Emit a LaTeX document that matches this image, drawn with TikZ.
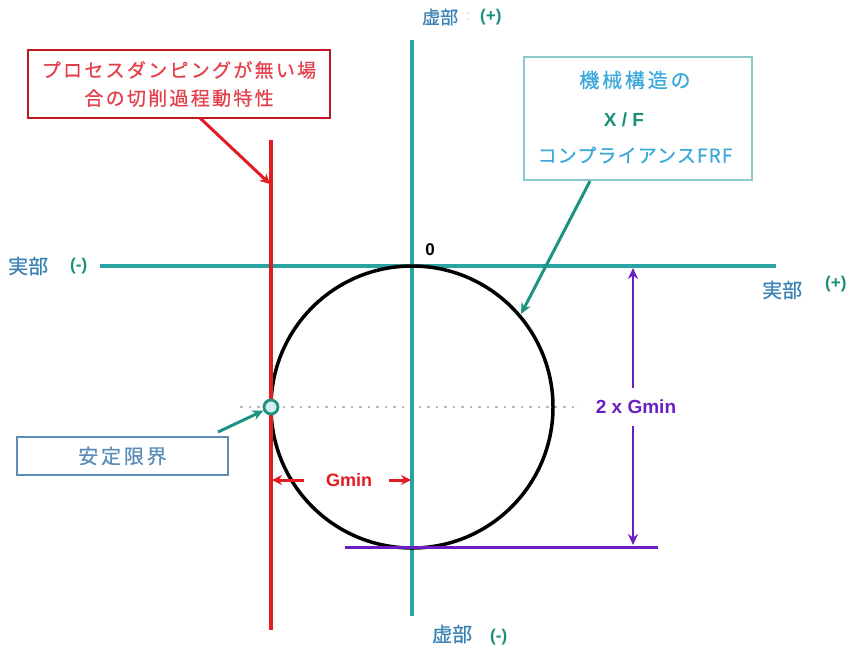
\documentclass[tikz,border=0pt]{standalone}
\usepackage{fontspec}
\setmainfont{Liberation Sans}
\newfontfamily\cjk[FakeBold=0.6]{Noto Sans CJK JP}
\usetikzlibrary{arrows.meta}
\definecolor{axisteal}{HTML}{2AA3A3}
\definecolor{myred}{HTML}{E31B23}
\definecolor{redtxt}{HTML}{E3404C}
\definecolor{mypurple}{HTML}{6A1FC2}
\definecolor{lblblue}{HTML}{3A82B4}
\definecolor{lblteal}{HTML}{1A8F7A}
\definecolor{ltblue}{HTML}{3AA8DA}
\definecolor{boxteal}{HTML}{8CC8CC}
\definecolor{steel}{HTML}{5B8DB8}
\tikzset{
  axisline/.style={draw=axisteal, line width=3.5pt},
  redline/.style={draw=myred, line width=3.5pt},
  purpline/.style={draw=mypurple, line width=3pt},
  tealarrow/.style={draw=lblteal!80!axisteal, line width=3pt, -{Stealth[length=11pt,width=10pt]}},
  redarrow/.style={draw=myred, line width=3pt, -{Stealth[length=10pt,width=10pt]}},
  purparrow/.style={draw=mypurple, line width=2.6pt, -{Stealth[length=11pt,width=10pt]}},
  lbl/.style={inner sep=0pt, font=\cjk\fontsize{20}{22}\selectfont, text=lblblue},
  pm/.style={inner sep=0pt, font=\bfseries\fontsize{17}{18}\selectfont, text=lblteal},
}
\begin{document}
\begin{tikzpicture}[x=1pt,y=-1pt]
\useasboundingbox (0,0) rectangle (853,653);
% dotted guide
\draw[gray!55, line width=2pt, dash pattern=on 2.5pt off 6pt] (240,407) -- (580,407);
% axes
\coordinate (hxL) at (100,266);
\coordinate (hxR) at (776,266);
\coordinate (vxT) at (412,40);
\coordinate (vxB) at (412,616);
\draw[axisline] (hxL) -- (hxR);
\draw[axisline] (vxT) -- (vxB);
% circle
\coordinate (cc) at (412,407);
\draw[black, line width=3.5pt] (cc) circle[radius=141];
% red vertical line
\coordinate (rT) at (271,140);
\coordinate (rB) at (271,630);
\draw[redline] (rT) -- (rB);
% purple baseline
\coordinate (pL) at (345,547);
\coordinate (pR) at (658,547);
\draw[purpline] (pL) -- (pR);
% stability point
\node[circle, draw=lblteal!80!axisteal, line width=2.8pt, fill=white!80!axisteal, minimum size=14pt, inner sep=0pt] (stab) at (271,407) {};
% labels on axes
\node[lbl, anchor=west] (reL) at (8,266) {実部};
\node[pm, anchor=west] (reLpm) at (70,266) {(-)};
\node[lbl, anchor=west] (reR) at (762,290) {実部};
\node[pm, anchor=west] (reRpm) at (825,284) {(+)};
\node[lbl, anchor=west, font=\cjk\fontsize{18}{20}\selectfont] (imT) at (422,17) {虚部};
\node[anchor=west, inner sep=0pt, text=gray!45, font=\fontsize{14}{16}\selectfont] (imTc) at (466,17) {:};
\node[pm, anchor=west] (imTpm) at (480,17) {(+)};
\node[lbl, anchor=west] (imB) at (432,634) {虚部};
\node[pm, anchor=west] (imBpm) at (490,637) {(-)};
\node[inner sep=0pt, font=\bfseries\fontsize{17}{18}\selectfont] (zero) at (430,250) {0};
% red box
\node[draw=myred!85!black, line width=1.6pt, minimum width=302pt, minimum height=68pt, inner sep=0pt, align=center,
      font=\cjk\fontsize{19}{28}\selectfont, text=redtxt] (redbox) at (179,84)
      {\addfontfeatures{LetterSpace=12}プロセスダンピングが無い場\\\addfontfeatures{LetterSpace=12}合の切削過程動特性};
\coordinate (redtip) at (270,184);
\draw[redarrow] (200,118) -- (redtip);
% right box
\node[draw=boxteal, line width=1.6pt, minimum width=228pt, minimum height=123pt, inner sep=0pt] (frfbox) at (638,118.5) {};
\node[inner sep=0pt, font=\cjk\fontsize{20}{22}\selectfont, text=ltblue] (frf1) at (635,80) {\addfontfeatures{LetterSpace=14}機械構造の};
\node[inner sep=0pt, font=\bfseries\fontsize{19}{20}\selectfont, text=lblteal] (frf2) at (624,120) {X / F};
\node[inner sep=0pt, font=\cjk\fontsize{19}{20}\selectfont, text=ltblue] (frf3) at (635,155) {\addfontfeatures{LetterSpace=6}コンプライアンスFRF};
\coordinate (frftip) at (521,314);
\draw[tealarrow] (590,181) -- (frftip);
% stability box
\node[draw=steel, line width=1.6pt, minimum width=211pt, minimum height=38pt, inner sep=0pt,
      font=\cjk\fontsize{20}{22}\selectfont, text=steel] (stabbox) at (122.5,456) {\addfontfeatures{LetterSpace=14}安定限界};
\draw[tealarrow] (218,432) -- (stab);
% Gmin
\node[inner sep=0pt, font=\bfseries\fontsize{18}{20}\selectfont, text=myred] (gmin) at (349,480) {Gmin};
\coordinate (gL) at (272,480);
\coordinate (gR) at (411,480);
\draw[redarrow] (304,480) -- (gL);
\draw[redarrow] (389,480) -- (gR);
% 2 x Gmin
\node[inner sep=0pt, font=\bfseries\fontsize{19}{20}\selectfont, text=mypurple] (gg) at (636,407) {2 x Gmin};
\coordinate (ggT) at (633,268);
\coordinate (ggB) at (633,545);
\draw[purparrow] (633,388) -- (ggT);
\draw[purparrow] (633,426) -- (ggB);
\end{tikzpicture}
\end{document}
